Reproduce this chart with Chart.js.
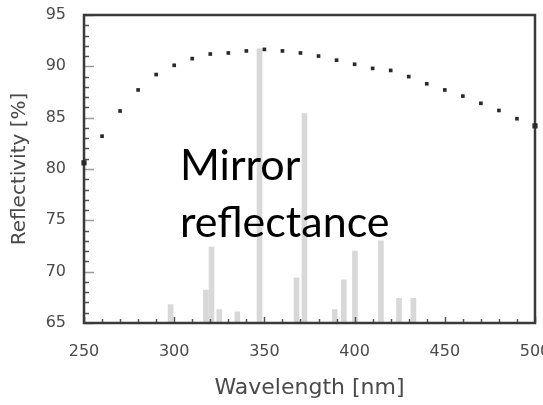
<!DOCTYPE html>
<html>
<head>
<meta charset="utf-8">
<script src="https://cdn.jsdelivr.net/npm/chart.js@4"></script>
<style>
  html, body { margin: 0; padding: 0; background: #ffffff; }
  #wrap { position: relative; width: 543px; height: 405px; overflow: hidden; }
  #note { position: absolute; left: 180px; top: 135px; font-family: Lato, "Open Sans", sans-serif;
          font-size: 43px; line-height: 57px; color: #000; white-space: nowrap; }
</style>
</head>
<body>
<div id="wrap">
  <canvas id="c" width="543" height="405"></canvas>
  <div id="note">Mirror<br>reflectance</div>
</div>
<script>
// Mirror reflectivity (dots), every 10 nm
const wavelengths = [250,260,270,280,290,300,310,320,330,340,350,360,370,380,390,400,410,420,430,440,450,460,470,480,490,500];
const reflectivity = [80.6,83.2,85.65,87.7,89.2,90.1,90.75,91.2,91.3,91.5,91.65,91.5,91.3,91.0,90.6,90.2,89.8,89.6,89.0,88.3,87.7,87.1,86.4,85.7,84.9,84.2];

// Emission lines (grey bars)
const lineWavelengths = [298,317.6,320.7,325,335,347.3,367.8,372.2,389,394,400.2,414.6,424.6,432.6];
const lineHeights =     [66.8,68.2,72.4,66.3,66.1,91.7,69.4,85.4,66.3,69.2,72.0,73.0,67.4,67.4];

const yTicks = [65,70,75,80,85,90,95];
const xTicks = [250,300,350,400,450,500];

const axisColor = '#3a3a3a';
const textColor = '#4a4a4a';

const framePlugin = {
  id: 'frame',
  afterDatasetsDraw(chart) {
    const {ctx, chartArea: a, scales: {x, y}} = chart;
    ctx.save();
    ctx.lineWidth = 1.5;
    for (let v = 65; v <= 95; v += 1) {
      const py = Math.round(y.getPixelForValue(v)) + 0.5;
      const len = (v % 5 === 0) ? 10 : 5;
      ctx.strokeStyle = (v % 5 === 0) ? '#9a9a9a' : '#555';
      ctx.beginPath(); ctx.moveTo(a.left, py); ctx.lineTo(a.left + len, py); ctx.stroke();
    }
    ctx.strokeStyle = '#555';
    for (let v = 250; v <= 500; v += 10) {
      const px = Math.round(x.getPixelForValue(v)) + 0.5;
      const len = (v % 50 === 0) ? 6 : 4;
      ctx.beginPath(); ctx.moveTo(px, a.bottom); ctx.lineTo(px, a.bottom - len); ctx.stroke();
    }
    ctx.lineWidth = 2.5;
    ctx.strokeStyle = axisColor;
    ctx.strokeRect(a.left, a.top, a.right - a.left, a.bottom - a.top);
    ctx.restore();
  },
  afterDraw(chart) {
    // redraw edge points on top of the frame
    const meta = chart.getDatasetMeta(0);
    const {ctx, chartArea: a} = chart;
    ctx.save();
    ctx.fillStyle = '#2a2a2a';
    meta.data.forEach(p => {
      if (p.x <= a.left + 2 || p.x >= a.right - 2) ctx.fillRect(p.x - 2.6, p.y - 2.6, 5.2, 5.2);
    });
    ctx.restore();
  }
};

new Chart(document.getElementById('c'), {
  type: 'bar',
  data: {
    datasets: [
      {
        type: 'scatter',
        label: 'Reflectivity',
        data: wavelengths.map((w, i) => ({x: w, y: reflectivity[i]})),
        pointStyle: 'rect',
        pointRadius: 2.6,
        backgroundColor: '#2a2a2a',
        borderColor: '#2a2a2a',
        borderWidth: 0,
        showLine: false,
        clip: false
      },
      {
        type: 'bar',
        label: 'Lines',
        data: lineWavelengths.map((w, i) => ({x: w, y: lineHeights[i]})),
        backgroundColor: '#d8d8d8',
        borderWidth: 0,
        barThickness: 5,
        grouped: false
      }
    ]
  },
  options: {
    responsive: false,
    animation: false,
    events: [],
    layout: { padding: { left: 0, right: 8, top: 15, bottom: 0 } },
    plugins: { legend: { display: false }, tooltip: { enabled: false } },
    scales: {
      x: {
        type: 'linear',
        offset: false,
        min: 250, max: 500,
        afterBuildTicks: s => { s.ticks = xTicks.map(v => ({value: v})); },
        afterFit: s => { s.height = 82; s.paddingLeft = 0; s.paddingRight = 0; },
        grid: { display: false, drawTicks: false, offset: false },
        border: { display: false },
        ticks: { padding: 19, maxRotation: 0, autoSkip: false, color: textColor,
                 font: { family: 'DejaVu Sans', size: 16 } },
        title: { display: true, text: 'Wavelength [nm]', color: textColor,
                 font: { family: 'DejaVu Sans', size: 22 }, padding: { top: 0, bottom: 4 } }
      },
      y: {
        min: 65, max: 95,
        afterBuildTicks: s => { s.ticks = yTicks.map(v => ({value: v})); },
        afterFit: s => { s.width = 84; s.paddingTop = 0; s.paddingBottom = 0; },
        grid: { display: false, drawTicks: false },
        border: { display: false },
        ticks: { padding: 18, color: textColor, font: { family: 'DejaVu Sans', size: 16 } },
        title: { display: true, text: 'Reflectivity [%]', color: textColor,
                 font: { family: 'DejaVu Sans', size: 20 }, padding: { top: 8, bottom: 0 } }
      }
    }
  },
  plugins: [framePlugin]
});
</script>
</body>
</html>
